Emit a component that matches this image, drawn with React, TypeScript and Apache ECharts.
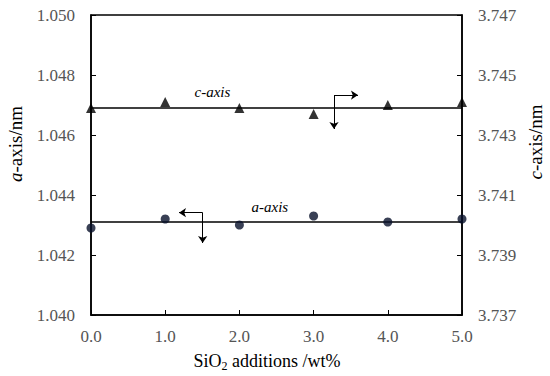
import React, { useEffect, useRef } from "react";
import * as echarts from "echarts";

const xValues = [0, 1, 2, 3, 4, 5];
const aValues = [1.0429, 1.0432, 1.043, 1.0433, 1.0431, 1.0432];
const cValues = [3.7439, 3.7441, 3.7439, 3.7437, 3.744, 3.7441];
const aFit = 1.0431;
const cFit = 3.7439;
const leftTicks = [1.04, 1.042, 1.044, 1.046, 1.048, 1.05];
const rightTicks = [3.737, 3.739, 3.741, 3.743, 3.745, 3.747];
// arrow annotations in data coordinates
const aArrow = { corner: [1.505, 1.04341], left: 1.186, down: 1.0424 };
const cArrow = { corner: [3.275, 3.74433], right: 3.598, down: 3.7432 };
const aLabelPos = [2.41, 1.0436];
const cLabelPos = [1.637, 3.74443];

const FONT = "Times New Roman, Liberation Serif, DejaVu Serif, serif";

export default function App() {
  const ref = useRef<HTMLDivElement>(null);
  useEffect(() => {
    if (!ref.current) return;
    const chart = echarts.init(ref.current, undefined, { renderer: "svg" });
    const labelStyle = { fontFamily: FONT, fontSize: 17, color: "#555" };
    const arrowLine = { color: "#000", width: 1, type: "solid" as const };
    chart.setOption({
      animation: false,
      backgroundColor: "#fff",
      textStyle: { fontFamily: FONT },
      grid: {
        left: 91,
        right: 88,
        top: 15,
        bottom: 61,
        show: true,
        borderColor: "#000",
        borderWidth: 1.5,
      },
      xAxis: {
        type: "value",
        min: 0,
        max: 5,
        interval: 1,
        axisLine: { show: true, lineStyle: { color: "#000", width: 1.5 } },
        axisTick: { show: true, inside: true, length: 5, lineStyle: { color: "#000" } },
        splitLine: { show: false },
        axisLabel: { ...labelStyle, margin: 13, formatter: (v: number) => v.toFixed(1) },
      },
      yAxis: [
        {
          type: "value",
          min: 1.04,
          max: 1.05,
          position: "left",
          axisLine: { show: true, lineStyle: { color: "#000", width: 1.5 } },
          axisTick: { show: true, inside: true, length: 5, customValues: leftTicks, lineStyle: { color: "#000" } },
          splitLine: { show: false },
          axisLabel: { ...labelStyle, margin: 16, customValues: leftTicks, formatter: (v: number) => v.toFixed(3) },
        },
        {
          type: "value",
          min: 3.737,
          max: 3.747,
          position: "right",
          axisLine: { show: true, lineStyle: { color: "#000", width: 1.5 } },
          axisTick: { show: true, inside: true, length: 5, customValues: rightTicks, lineStyle: { color: "#000" } },
          splitLine: { show: false },
          axisLabel: { ...labelStyle, margin: 16, customValues: rightTicks, formatter: (v: number) => v.toFixed(3) },
        },
      ],
      series: [
        {
          type: "line",
          yAxisIndex: 0,
          data: [
            [xValues[0], aFit],
            [xValues[xValues.length - 1], aFit],
          ],
          symbol: "none",
          lineStyle: { color: "#000", width: 1.3 },
          z: 2,
          markLine: {
            silent: true,
            symbol: ["none", "arrow"],
            symbolSize: 7,
            lineStyle: arrowLine,
            label: { show: false },
            data: [
              [{ coord: aArrow.corner }, { coord: [aArrow.left, aArrow.corner[1]] }],
              [{ coord: aArrow.corner }, { coord: [aArrow.corner[0], aArrow.down] }],
            ],
          },
          markPoint: {
            silent: true,
            symbol: "circle",
            symbolSize: 1,
            itemStyle: { color: "transparent" },
            label: { show: true, position: "inside", fontFamily: FONT, fontStyle: "italic", fontSize: 15, color: "#000" },
            data: [{ coord: aLabelPos, value: "a-axis", label: { formatter: "a-axis" } }],
          },
        },
        {
          type: "line",
          yAxisIndex: 1,
          data: [
            [xValues[0], cFit],
            [xValues[xValues.length - 1], cFit],
          ],
          symbol: "none",
          lineStyle: { color: "#000", width: 1.3 },
          z: 2,
          markLine: {
            silent: true,
            symbol: ["none", "arrow"],
            symbolSize: 7,
            lineStyle: arrowLine,
            label: { show: false },
            data: [
              [{ coord: cArrow.corner }, { coord: [cArrow.right, cArrow.corner[1]] }],
              [{ coord: cArrow.corner }, { coord: [cArrow.corner[0], cArrow.down] }],
            ],
          },
          markPoint: {
            silent: true,
            symbol: "circle",
            symbolSize: 1,
            itemStyle: { color: "transparent" },
            label: { show: true, position: "inside", fontFamily: FONT, fontStyle: "italic", fontSize: 15, color: "#000" },
            data: [{ coord: cLabelPos, value: "c-axis", label: { formatter: "c-axis" } }],
          },
        },
        {
          type: "scatter",
          yAxisIndex: 0,
          data: xValues.map((x, i) => [x, aValues[i]]),
          symbol: "circle",
          symbolSize: 9,
          itemStyle: { color: "#07102a" },
          z: 5,
        },
        {
          type: "scatter",
          yAxisIndex: 1,
          data: xValues.map((x, i) => [x, cValues[i]]),
          symbol: "triangle",
          symbolSize: 10,
          itemStyle: { color: "#000" },
          z: 5,
        },
      ],
      graphic: [
        {
          type: "text",
          x: 15,
          y: 144,
          rotation: Math.PI / 2,
          style: {
            text: "{i|a}{n|-axis/nm}",
            align: "center",
            verticalAlign: "middle",
            rich: {
              i: { fontFamily: FONT, fontSize: 19, fontStyle: "italic", fill: "#000" },
              n: { fontFamily: FONT, fontSize: 19, fill: "#000" },
            },
          },
        },
        {
          type: "text",
          x: 535,
          y: 142,
          rotation: Math.PI / 2,
          style: {
            text: "{i|c}{n|-axis/nm}",
            align: "center",
            verticalAlign: "middle",
            rich: {
              i: { fontFamily: FONT, fontSize: 19, fontStyle: "italic", fill: "#000" },
              n: { fontFamily: FONT, fontSize: 19, fill: "#000" },
            },
          },
        },
        {
          type: "text",
          x: 267,
          y: 361,
          style: {
            text: "{n|SiO}{s|2}{n| additions /wt%}",
            align: "center",
            verticalAlign: "middle",
            rich: {
              n: { fontFamily: FONT, fontSize: 18, fill: "#000", lineHeight: 22 },
              s: { fontFamily: FONT, fontSize: 12, fill: "#000", verticalAlign: "bottom", lineHeight: 22, padding: [10, 0, 0, 0] },
            },
          },
        },
      ],
    });
    return () => chart.dispose();
  }, []);
  return <div ref={ref} style={{ position: "fixed", left: 0, top: 0, width: 550, height: 376 }} />;
}
